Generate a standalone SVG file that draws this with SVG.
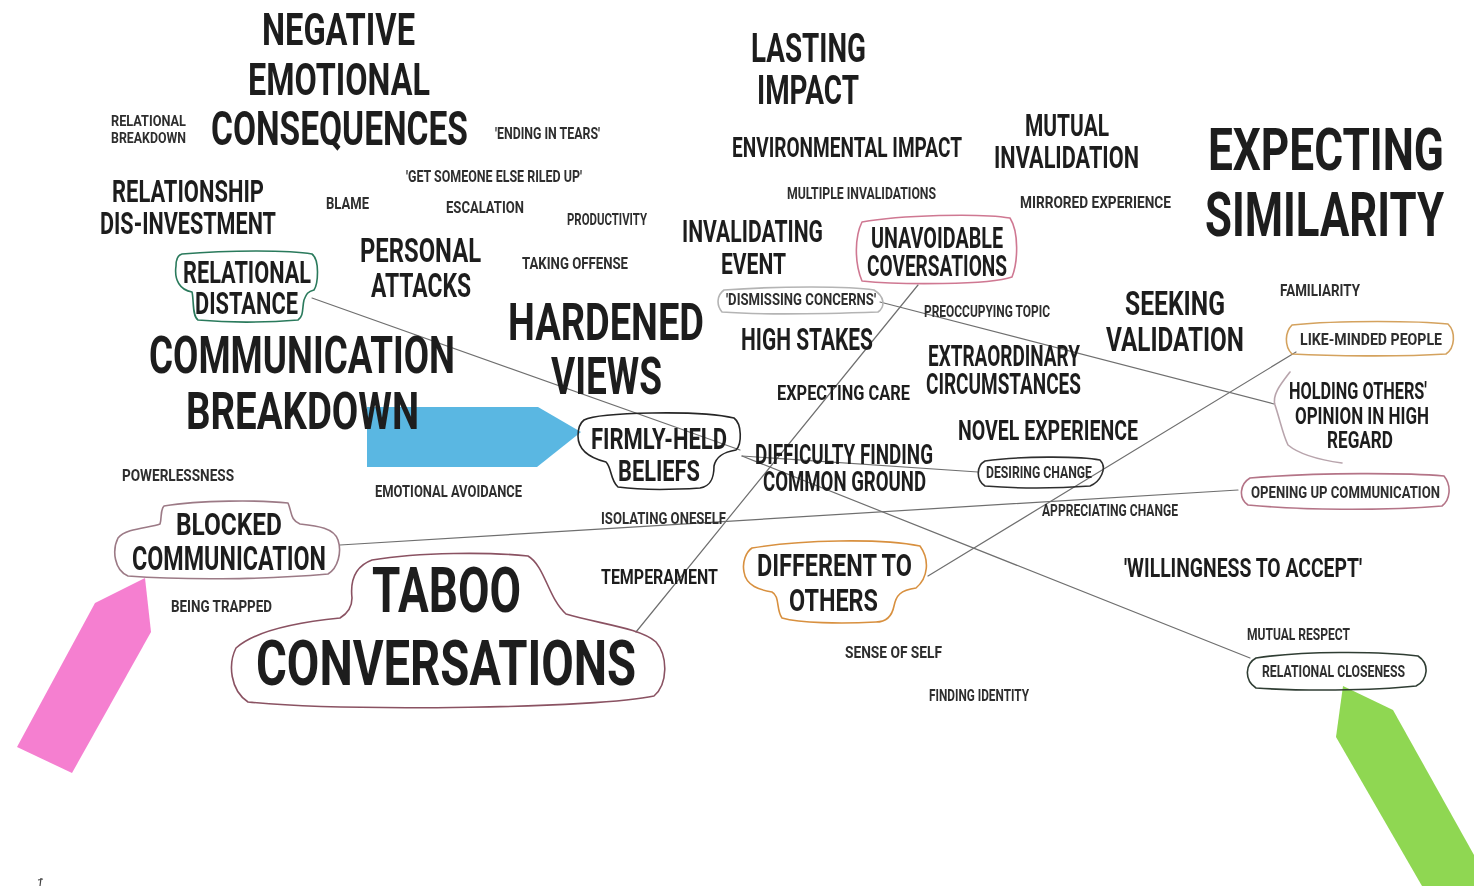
<svg xmlns="http://www.w3.org/2000/svg" width="1474" height="886" viewBox="0 0 1474 886">
  <style>
    text { font-family: Roboto, "DejaVu Sans", "Liberation Sans", sans-serif; font-weight: 700; fill: #1d1d1d; }
    .s { fill: #2e2e2e; font-weight: 700; }
    .bub { fill: none; stroke-width: 1.6; stroke-linejoin: round; stroke-linecap: round; }
    .conn line { stroke: #6f6f6f; stroke-width: 1.2; stroke-linecap: round; }
    .note { mix-blend-mode: multiply; }
  </style>
  <rect width="1474" height="886" fill="#ffffff"/>

  <!-- sticky-note arrows -->
  <polygon class="note" points="367,407 538,407 581,432 537,467 367,467" fill="#5ab7e2"/>
  <polygon class="note" points="145,578 151,632 72,773 17,747 95,603" fill="#f57fd0"/>
  <polygon class="note" points="1343,686 1393,710 1474,855 1474,886 1422,886 1336,737" fill="#8fd752"/>

  <!-- connectors -->
  <g id="connectors" class="conn">
    <line x1="312" y1="298" x2="740" y2="450"/>
    <line x1="742" y1="456" x2="978" y2="472"/>
    <line x1="742" y1="456" x2="1250" y2="658"/>
    <line x1="918" y1="285" x2="636" y2="632"/>
    <line x1="880" y1="302" x2="1274" y2="404"/>
    <line x1="1296" y1="352" x2="928" y2="576"/>
    <line x1="340" y1="545" x2="1238" y2="490"/>
  </g>

  <!-- headline themes (condensed lettering: every label is squeezed to 70% width) -->
  <g id="negative-emotional-consequences">
    <text transform="translate(262 45) scale(0.7 1)" font-size="45" textLength="218.6" lengthAdjust="spacingAndGlyphs">NEGATIVE</text>
    <text transform="translate(248 95) scale(0.7 1)" font-size="45" textLength="260" lengthAdjust="spacingAndGlyphs">EMOTIONAL</text>
    <text transform="translate(211 145) scale(0.7 1)" font-size="49" textLength="367.1" lengthAdjust="spacingAndGlyphs">CONSEQUENCES</text>
  </g>
  <g id="lasting-impact">
    <text transform="translate(751 62) scale(0.7 1)" font-size="41" textLength="164.3" lengthAdjust="spacingAndGlyphs">LASTING</text>
    <text transform="translate(757 104) scale(0.7 1)" font-size="41" textLength="145.7" lengthAdjust="spacingAndGlyphs">IMPACT</text>
  </g>
  <g id="expecting-similarity">
    <text transform="translate(1208 170) scale(0.7 1)" font-size="60" textLength="337.1" lengthAdjust="spacingAndGlyphs">EXPECTING</text>
    <text transform="translate(1205 236) scale(0.7 1)" font-size="61" textLength="341.4" lengthAdjust="spacingAndGlyphs">SIMILARITY</text>
  </g>
  <g id="hardened-views">
    <text transform="translate(508 340) scale(0.7 1)" font-size="51" textLength="280" lengthAdjust="spacingAndGlyphs">HARDENED</text>
    <text transform="translate(551 394) scale(0.7 1)" font-size="51" textLength="158.6" lengthAdjust="spacingAndGlyphs">VIEWS</text>
  </g>
  <g id="communication-breakdown">
    <text transform="translate(149 373) scale(0.7 1)" font-size="51" textLength="437.1" lengthAdjust="spacingAndGlyphs">COMMUNICATION</text>
    <text transform="translate(186 429) scale(0.7 1)" font-size="51" textLength="332.9" lengthAdjust="spacingAndGlyphs">BREAKDOWN</text>
  </g>
  <g id="taboo-conversations">
    <path class="bub" stroke="#8a5262" d="M 352 598 C 350 580, 356 566, 372 560 C 420 552, 490 552, 528 556 C 545 566, 548 598, 566 614 C 600 624, 640 628, 656 642 C 668 656, 668 684, 654 696 C 600 708, 350 712, 248 702 C 230 690, 228 664, 236 648 C 256 630, 300 622, 340 618 C 350 612, 352 604, 352 598 Z"/>
    <text transform="translate(372 612) scale(0.7 1)" font-size="63" textLength="212.9" lengthAdjust="spacingAndGlyphs">TABOO</text>
    <text transform="translate(256 685) scale(0.7 1)" font-size="63" textLength="542.9" lengthAdjust="spacingAndGlyphs">CONVERSATIONS</text>
  </g>

  <!-- medium labels -->
  <g id="relationship-dis-investment">
    <text transform="translate(112 202) scale(0.7 1)" font-size="31" textLength="217.1" lengthAdjust="spacingAndGlyphs">RELATIONSHIP</text>
    <text transform="translate(100 234) scale(0.7 1)" font-size="31" textLength="251.4" lengthAdjust="spacingAndGlyphs">DIS-INVESTMENT</text>
  </g>
  <g id="mutual-invalidation">
    <text transform="translate(1025 136) scale(0.7 1)" font-size="31" textLength="120" lengthAdjust="spacingAndGlyphs">MUTUAL</text>
    <text transform="translate(994 168) scale(0.7 1)" font-size="31" textLength="207.1" lengthAdjust="spacingAndGlyphs">INVALIDATION</text>
  </g>
  <g id="environmental-impact">
    <text transform="translate(732 157) scale(0.7 1)" font-size="27" textLength="328.6" lengthAdjust="spacingAndGlyphs">ENVIRONMENTAL IMPACT</text>
  </g>
  <g id="invalidating-event">
    <text transform="translate(682 242) scale(0.7 1)" font-size="31" textLength="201.4" lengthAdjust="spacingAndGlyphs">INVALIDATING</text>
    <text transform="translate(721 274) scale(0.7 1)" font-size="30" textLength="92.9" lengthAdjust="spacingAndGlyphs">EVENT</text>
  </g>
  <g id="unavoidable-coversations">
    <path class="bub" stroke="#cf7892" d="M 862 222 C 900 215, 980 213, 1010 218 C 1019 232, 1018 262, 1012 277 C 990 285, 900 285, 862 281 C 854 262, 855 236, 862 222 Z"/>
    <text transform="translate(871 248) scale(0.7 1)" font-size="30" textLength="188.6" lengthAdjust="spacingAndGlyphs">UNAVOIDABLE</text>
    <text transform="translate(867 276) scale(0.7 1)" font-size="30" textLength="200" lengthAdjust="spacingAndGlyphs">COVERSATIONS</text>
  </g>
  <g id="relational-distance">
    <path class="bub" stroke="#2a7a5c" d="M 182 254 C 230 250, 290 250, 312 254 C 320 260, 318 284, 314 290 C 306 292, 306 296, 304 300 C 302 308, 304 316, 298 320 C 260 323, 220 322, 198 320 C 192 316, 194 300, 192 292 C 180 290, 174 280, 176 266 C 176 258, 178 255, 182 254 Z"/>
    <text transform="translate(183 283) scale(0.7 1)" font-size="31" textLength="182.9" lengthAdjust="spacingAndGlyphs">RELATIONAL</text>
    <text transform="translate(195 314) scale(0.7 1)" font-size="31" textLength="147.1" lengthAdjust="spacingAndGlyphs">DISTANCE</text>
  </g>
  <g id="personal-attacks">
    <text transform="translate(360 262) scale(0.7 1)" font-size="33" textLength="172.9" lengthAdjust="spacingAndGlyphs">PERSONAL</text>
    <text transform="translate(371 297) scale(0.7 1)" font-size="33" textLength="142.9" lengthAdjust="spacingAndGlyphs">ATTACKS</text>
  </g>
  <g id="seeking-validation">
    <text transform="translate(1125 315) scale(0.7 1)" font-size="34" textLength="142.9" lengthAdjust="spacingAndGlyphs">SEEKING</text>
    <text transform="translate(1106 351) scale(0.7 1)" font-size="34" textLength="197.1" lengthAdjust="spacingAndGlyphs">VALIDATION</text>
  </g>
  <g id="high-stakes">
    <text transform="translate(741 350) scale(0.7 1)" font-size="31" textLength="188.6" lengthAdjust="spacingAndGlyphs">HIGH STAKES</text>
  </g>
  <g id="extraordinary-circumstances">
    <text transform="translate(928 366) scale(0.7 1)" font-size="29" textLength="217.1" lengthAdjust="spacingAndGlyphs">EXTRAORDINARY</text>
    <text transform="translate(926 394) scale(0.7 1)" font-size="29" textLength="221.4" lengthAdjust="spacingAndGlyphs">CIRCUMSTANCES</text>
  </g>
  <g id="expecting-care">
    <text transform="translate(777 400) scale(0.7 1)" font-size="21" textLength="190" lengthAdjust="spacingAndGlyphs">EXPECTING CARE</text>
  </g>
  <g id="holding-others-opinion">
    <path class="bub" stroke="#b8a4ac" stroke-width="1.1" d="M 1290 372 C 1280 385, 1272 395, 1275 405 C 1280 420, 1283 435, 1288 445 C 1300 455, 1320 460, 1342 463"/>
    <text transform="translate(1289 399) scale(0.7 1)" font-size="23" textLength="197.1" lengthAdjust="spacingAndGlyphs">HOLDING OTHERS'</text>
    <text transform="translate(1295 424) scale(0.7 1)" font-size="23" textLength="191.4" lengthAdjust="spacingAndGlyphs">OPINION IN HIGH</text>
    <text transform="translate(1327 448) scale(0.7 1)" font-size="23" textLength="94.3" lengthAdjust="spacingAndGlyphs">REGARD</text>
  </g>
  <g id="novel-experience">
    <text transform="translate(958 440) scale(0.7 1)" font-size="27" textLength="257.1" lengthAdjust="spacingAndGlyphs">NOVEL EXPERIENCE</text>
  </g>
  <g id="firmly-held-beliefs">
    <path class="bub" stroke="#262626" d="M 584 420 C 600 412, 700 410, 734 418 C 742 424, 742 444, 736 450 C 724 452, 716 456, 714 466 C 714 476, 712 486, 700 488 C 670 490, 640 490, 618 487 C 610 480, 612 468, 606 462 C 590 458, 578 450, 578 436 C 578 428, 580 423, 584 420 Z"/>
    <text transform="translate(591 449) scale(0.7 1)" font-size="30" textLength="194.3" lengthAdjust="spacingAndGlyphs">FIRMLY-HELD</text>
    <text transform="translate(618 481) scale(0.7 1)" font-size="30" textLength="117.1" lengthAdjust="spacingAndGlyphs">BELIEFS</text>
  </g>
  <g id="difficulty-finding-common-ground">
    <text transform="translate(755 464) scale(0.7 1)" font-size="27" textLength="254.3" lengthAdjust="spacingAndGlyphs">DIFFICULTY FINDING</text>
    <text transform="translate(763 491) scale(0.7 1)" font-size="27" textLength="232.9" lengthAdjust="spacingAndGlyphs">COMMON GROUND</text>
  </g>
  <g id="blocked-communication">
    <path class="bub" stroke="#9c7a86" d="M 164 506 C 200 500, 260 500, 288 503 C 292 512, 290 520, 300 524 C 318 526, 334 528, 338 540 C 342 552, 338 568, 328 574 C 260 580, 180 580, 128 576 C 114 570, 112 550, 118 538 C 126 528, 150 528, 160 524 C 162 518, 160 510, 164 506 Z"/>
    <text transform="translate(176 535) scale(0.7 1)" font-size="32" textLength="151.4" lengthAdjust="spacingAndGlyphs">BLOCKED</text>
    <text transform="translate(132 570) scale(0.7 1)" font-size="33" textLength="277.1" lengthAdjust="spacingAndGlyphs">COMMUNICATION</text>
  </g>
  <g id="different-to-others">
    <path class="bub" stroke="#d8903f" d="M 752 548 C 800 540, 880 538, 920 546 C 930 560, 928 578, 916 588 C 900 590, 896 596, 894 606 C 892 616, 886 622, 876 622 C 840 624, 800 623, 782 618 C 776 610, 780 596, 772 592 C 760 590, 746 586, 744 572 C 742 562, 746 552, 752 548 Z"/>
    <text transform="translate(757 576) scale(0.7 1)" font-size="32" textLength="221.4" lengthAdjust="spacingAndGlyphs">DIFFERENT TO</text>
    <text transform="translate(789 611) scale(0.7 1)" font-size="32" textLength="127.1" lengthAdjust="spacingAndGlyphs">OTHERS</text>
  </g>
  <g id="willingness-to-accept">
    <text transform="translate(1124 577) scale(0.7 1)" font-size="25" textLength="340" lengthAdjust="spacingAndGlyphs">'WILLINGNESS TO ACCEPT'</text>
  </g>
  <g id="temperament">
    <text transform="translate(601 584) scale(0.7 1)" font-size="21" textLength="167.1" lengthAdjust="spacingAndGlyphs">TEMPERAMENT</text>
  </g>

  <!-- small labels -->
  <g id="relational-breakdown">
    <text class="s" transform="translate(111 126) scale(0.7 1)" font-size="15" textLength="107.1" lengthAdjust="spacingAndGlyphs">RELATIONAL</text>
    <text class="s" transform="translate(111 143) scale(0.7 1)" font-size="15" textLength="107.1" lengthAdjust="spacingAndGlyphs">BREAKDOWN</text>
  </g>
  <g id="ending-in-tears"><text class="s" transform="translate(495 139) scale(0.7 1)" font-size="16" textLength="150" lengthAdjust="spacingAndGlyphs">'ENDING IN TEARS'</text></g>
  <g id="get-someone-else-riled-up"><text class="s" transform="translate(406 182) scale(0.7 1)" font-size="16" textLength="251.4" lengthAdjust="spacingAndGlyphs">'GET SOMEONE ELSE RILED UP'</text></g>
  <g id="blame"><text class="s" transform="translate(326 209) scale(0.7 1)" font-size="16" textLength="61.4" lengthAdjust="spacingAndGlyphs">BLAME</text></g>
  <g id="escalation"><text class="s" transform="translate(446 213) scale(0.7 1)" font-size="17" textLength="111.4" lengthAdjust="spacingAndGlyphs">ESCALATION</text></g>
  <g id="productivity"><text class="s" transform="translate(567 225) scale(0.7 1)" font-size="16" textLength="114.3" lengthAdjust="spacingAndGlyphs">PRODUCTIVITY</text></g>
  <g id="multiple-invalidations"><text class="s" transform="translate(787 199) scale(0.7 1)" font-size="16" textLength="212.9" lengthAdjust="spacingAndGlyphs">MULTIPLE INVALIDATIONS</text></g>
  <g id="mirrored-experience"><text class="s" transform="translate(1020 208) scale(0.7 1)" font-size="16" textLength="215.7" lengthAdjust="spacingAndGlyphs">MIRRORED EXPERIENCE</text></g>
  <g id="taking-offense"><text class="s" transform="translate(522 269) scale(0.7 1)" font-size="16" textLength="151.4" lengthAdjust="spacingAndGlyphs">TAKING OFFENSE</text></g>
  <g id="dismissing-concerns">
    <path class="bub" stroke="#b4b4b4" stroke-width="1" d="M 724 290 C 780 286, 850 286, 874 290 C 884 296, 886 306, 878 312 C 820 314, 760 315, 722 312 C 716 305, 717 295, 724 290 Z"/>
    <text class="s" transform="translate(726 305) scale(0.7 1)" font-size="17" textLength="214.3" lengthAdjust="spacingAndGlyphs">'DISMISSING CONCERNS'</text>
  </g>
  <g id="preoccupying-topic"><text class="s" transform="translate(924 317) scale(0.7 1)" font-size="16" textLength="180" lengthAdjust="spacingAndGlyphs">PREOCCUPYING TOPIC</text></g>
  <g id="familiarity"><text class="s" transform="translate(1280 296) scale(0.7 1)" font-size="16" textLength="114.3" lengthAdjust="spacingAndGlyphs">FAMILIARITY</text></g>
  <g id="like-minded-people">
    <path class="bub" stroke="#d4a25e" d="M 1292 325 C 1340 320, 1420 321, 1448 324 C 1456 332, 1455 348, 1446 354 C 1400 357, 1330 356, 1292 354 C 1284 346, 1285 332, 1292 325 Z"/>
    <text class="s" transform="translate(1300 345) scale(0.7 1)" font-size="16" textLength="202.9" lengthAdjust="spacingAndGlyphs">LIKE-MINDED PEOPLE</text>
  </g>
  <g id="powerlessness"><text class="s" transform="translate(122 481) scale(0.7 1)" font-size="16" textLength="160" lengthAdjust="spacingAndGlyphs">POWERLESSNESS</text></g>
  <g id="emotional-avoidance"><text class="s" transform="translate(375 497) scale(0.7 1)" font-size="16" textLength="210" lengthAdjust="spacingAndGlyphs">EMOTIONAL AVOIDANCE</text></g>
  <g id="desiring-change">
    <path class="bub" stroke="#2e2e2e" d="M 985 461 C 1020 456, 1080 456, 1100 460 C 1108 468, 1100 482, 1090 486 C 1050 489, 1010 488, 985 486 C 976 480, 976 466, 985 461 Z"/>
    <text class="s" transform="translate(986 478) scale(0.7 1)" font-size="16" textLength="151.4" lengthAdjust="spacingAndGlyphs">DESIRING CHANGE</text>
  </g>
  <g id="opening-up-communication">
    <path class="bub" stroke="#b47487" d="M 1250 478 C 1320 472, 1410 473, 1444 476 C 1452 486, 1450 500, 1442 506 C 1380 511, 1300 510, 1248 505 C 1238 498, 1240 484, 1250 478 Z"/>
    <text class="s" transform="translate(1251 498) scale(0.7 1)" font-size="17" textLength="270" lengthAdjust="spacingAndGlyphs">OPENING UP COMMUNICATION</text>
  </g>
  <g id="appreciating-change"><text class="s" transform="translate(1042 516) scale(0.7 1)" font-size="16" textLength="194.3" lengthAdjust="spacingAndGlyphs">APPRECIATING CHANGE</text></g>
  <g id="isolating-oneself"><text class="s" transform="translate(601 524) scale(0.7 1)" font-size="16" textLength="178.6" lengthAdjust="spacingAndGlyphs">ISOLATING ONESELF</text></g>
  <g id="being-trapped"><text class="s" transform="translate(171 612) scale(0.7 1)" font-size="16" textLength="144.3" lengthAdjust="spacingAndGlyphs">BEING TRAPPED</text></g>
  <g id="mutual-respect"><text class="s" transform="translate(1247 640) scale(0.7 1)" font-size="16" textLength="147.1" lengthAdjust="spacingAndGlyphs">MUTUAL RESPECT</text></g>
  <g id="sense-of-self"><text class="s" transform="translate(845 658) scale(0.7 1)" font-size="17" textLength="138.6" lengthAdjust="spacingAndGlyphs">SENSE OF SELF</text></g>
  <g id="relational-closeness">
    <path class="bub" stroke="#2f3d33" d="M 1256 658 C 1300 651, 1380 651, 1418 656 C 1430 664, 1428 680, 1416 686 C 1370 691, 1300 691, 1256 688 C 1244 680, 1245 664, 1256 658 Z"/>
    <text class="s" transform="translate(1262 677) scale(0.7 1)" font-size="16" textLength="204.3" lengthAdjust="spacingAndGlyphs">RELATIONAL CLOSENESS</text>
  </g>
  <g id="finding-identity"><text class="s" transform="translate(929 701) scale(0.7 1)" font-size="16" textLength="142.9" lengthAdjust="spacingAndGlyphs">FINDING IDENTITY</text></g>

  <!-- stray pen mark -->
  <path d="M 41 878 L 40 886 M 38 880 L 43 879" stroke="#444" stroke-width="1.2" fill="none"/>
</svg>
